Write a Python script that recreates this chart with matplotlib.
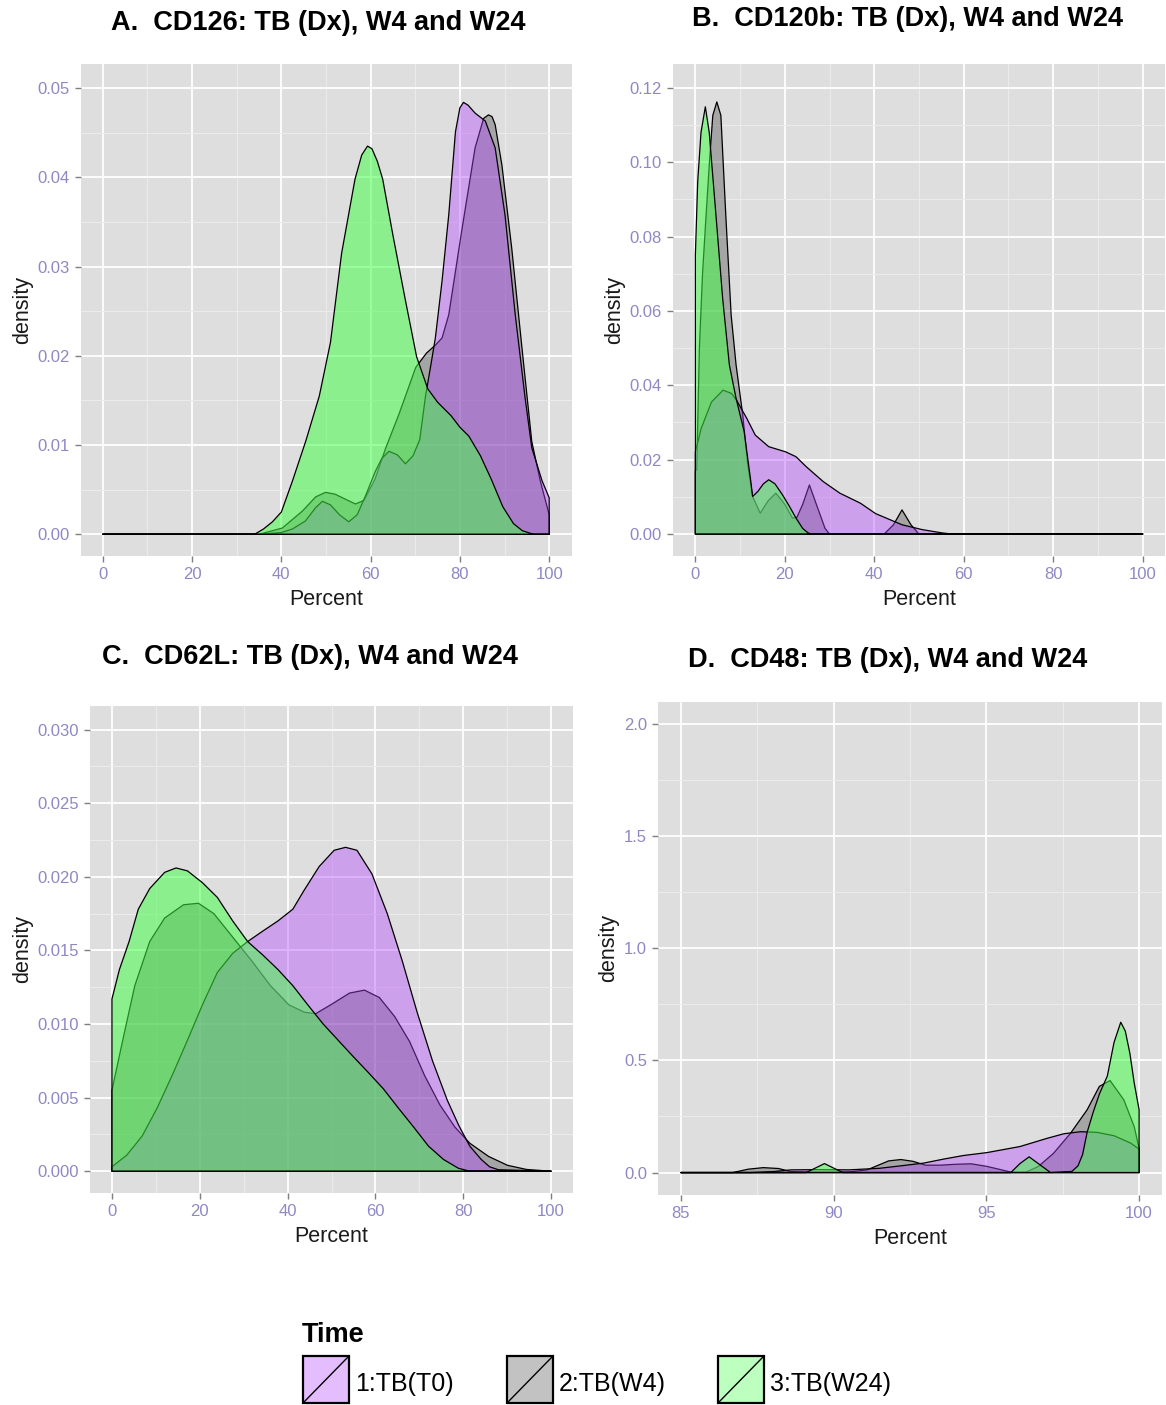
import matplotlib
matplotlib.use("Agg")
import matplotlib.pyplot as plt
import numpy as np
from matplotlib.colors import to_rgba
from matplotlib.patches import Rectangle

plt.rcParams['font.family'] = ['Liberation Sans', 'DejaVu Sans']

W, H = 1166, 1405

# ---- data (x = Percent, y = density) ----
# panel A: CD126
a_x_t0 = [0, 35, 40, 42.5, 45.4, 47.7, 49.2, 51, 53, 55.1, 57, 59, 61, 62.5, 64.1, 66, 67.8, 69.5, 71, 72.3, 73.5, 74.5, 76, 77.5, 79, 80, 80.8, 81.8, 83.4, 85.7, 87.9, 90.1, 92.4, 94.6, 96.1, 98.4, 100]
a_y_t0 = [0, 0, 0.0002, 0.0006, 0.0015, 0.003, 0.0037, 0.0033, 0.0022, 0.0014, 0.0022, 0.0045, 0.007, 0.0085, 0.0093, 0.0089, 0.0079, 0.0088, 0.0106, 0.0155, 0.019, 0.022, 0.0284, 0.0358, 0.0451, 0.0478, 0.0484, 0.0481, 0.0472, 0.0463, 0.0433, 0.0358, 0.0246, 0.0153, 0.0097, 0.006, 0.0041]
a_x_w4 = [0, 35, 40.2, 44.7, 47.7, 49.9, 52, 54.5, 56.6, 58.5, 61, 63.4, 66.3, 70.1, 72.5, 74.5, 76, 77.5, 80.4, 83.4, 85.3, 86.4, 87.2, 87.9, 89.4, 91.6, 93.9, 96.1, 98, 100]
a_y_w4 = [0, 0, 0.0007, 0.0026, 0.0042, 0.0047, 0.0045, 0.0039, 0.0034, 0.0038, 0.0062, 0.0097, 0.0134, 0.0187, 0.0203, 0.0212, 0.022, 0.0246, 0.034, 0.0433, 0.0466, 0.047, 0.0468, 0.0459, 0.0414, 0.0321, 0.0209, 0.0104, 0.006, 0.0022]
a_x_w24 = [0, 34, 36, 38, 40, 42.5, 45.5, 48.5, 51, 53.5, 56.5, 58, 59.3, 60.3, 61.5, 62.7, 65, 67.8, 70.3, 72.8, 75, 78, 80, 82, 84.6, 87, 89.6, 92, 94, 96.5, 100]
a_y_w24 = [0, 0, 0.0006, 0.0014, 0.0025, 0.006, 0.0105, 0.0155, 0.0215, 0.0315, 0.0398, 0.0425, 0.0435, 0.0432, 0.0418, 0.0398, 0.0335, 0.0262, 0.0199, 0.0163, 0.0148, 0.0133, 0.012, 0.011, 0.0088, 0.0062, 0.0031, 0.0012, 0.0004, 0, 0]

# panel B: CD120b
b_x_t0 = [0, 1.3, 3.6, 6.2, 8.1, 9.2, 11.5, 13.4, 16.4, 20.2, 22.5, 24.8, 28.6, 32.3, 36.9, 40.3, 46.2, 50.7, 55.2, 57.4, 100]
b_y_t0 = [0.0221, 0.0284, 0.0355, 0.0387, 0.0378, 0.036, 0.0311, 0.0266, 0.0235, 0.0221, 0.0208, 0.0181, 0.0141, 0.011, 0.0083, 0.0055, 0.0025, 0.0012, 0.0003, 0, 0]
b_x_w4 = [0, 0.3, 0.9, 1.6, 2.4, 3.2, 3.9, 4.8, 5.7, 6.8, 8.0, 9.1, 10.6, 11.7, 12.8, 14.5, 16.3, 18.0, 20.0, 21.7, 22.7, 24.0, 25.5, 27.5, 29.0, 30.0, 42.2, 44.3, 46.2, 48.2, 50.0, 100]
b_y_w4 = [0.017, 0.0173, 0.05, 0.07, 0.0858, 0.101, 0.1126, 0.1162, 0.1126, 0.0858, 0.0589, 0.0455, 0.032, 0.0186, 0.0101, 0.0056, 0.009, 0.011, 0.008, 0.0043, 0.0045, 0.008, 0.0132, 0.0065, 0.0015, 0, 0, 0.0025, 0.0065, 0.0025, 0, 0]
b_x_w24 = [0, 0.52, 1.26, 2.23, 3.1, 4.6, 6.1, 7.6, 9.1, 10.9, 12.4, 12.8, 14.0, 15.2, 16.4, 17.8, 19.5, 21.0, 22.5, 24.0, 25.2, 26.0, 100]
b_y_w24 = [0.075, 0.0947, 0.108, 0.1149, 0.108, 0.0858, 0.0634, 0.0455, 0.0365, 0.0276, 0.0141, 0.0101, 0.0115, 0.0135, 0.0146, 0.0135, 0.0105, 0.0075, 0.0043, 0.0015, 0.0003, 0, 0]

# panel C: CD62L
c_x_t0 = [0, 3.4, 6.9, 10.3, 13.7, 17.2, 20.6, 24, 27.5, 30.9, 34.3, 37.8, 41.2, 43.8, 47.2, 50.6, 53.2, 55.8, 59.2, 62.7, 66.1, 69.5, 73, 76.4, 79, 81.5, 84.1, 86, 88, 100]
c_y_t0 = [0.0003, 0.0011, 0.0024, 0.0043, 0.0065, 0.0089, 0.0113, 0.0135, 0.0148, 0.0156, 0.0163, 0.017, 0.0178, 0.0191, 0.0207, 0.0218, 0.022, 0.0218, 0.0202, 0.0175, 0.0143, 0.0108, 0.0075, 0.0048, 0.0031, 0.0017, 0.0008, 0.0003, 0.0001, 0]
c_x_w4 = [0, 2.6, 5.2, 8.6, 12, 16.3, 19.7, 23.2, 27.5, 31.8, 36.1, 40.3, 43.8, 46.4, 49.8, 54.1, 57.5, 60.9, 64.4, 67.8, 71.2, 74.7, 78.1, 81.5, 85.8, 90.1, 94.4, 100]
c_y_w4 = [0.0055, 0.0091, 0.0126, 0.0156, 0.0172, 0.0181, 0.0182, 0.0175, 0.0159, 0.0143, 0.0126, 0.0113, 0.0108, 0.0107, 0.0113, 0.0121, 0.0123, 0.0118, 0.0105, 0.0088, 0.0065, 0.0045, 0.003, 0.0019, 0.001, 0.0004, 0.00012, 0]
c_x_w24 = [0, 1.7, 3.9, 6, 8.6, 12, 14.6, 17.2, 20.6, 24, 27.5, 30.9, 34.3, 37.8, 41.2, 44.6, 48.1, 51.5, 54.9, 58.4, 61.8, 65.2, 68.7, 72.1, 75.5, 78.9, 81.5, 100]
c_y_w24 = [0.0117, 0.0137, 0.0156, 0.0178, 0.0192, 0.0203, 0.0206, 0.0204, 0.0196, 0.0186, 0.017, 0.0156, 0.0147, 0.0137, 0.0126, 0.0113, 0.01, 0.0089, 0.0078, 0.0067, 0.0056, 0.0043, 0.003, 0.0017, 0.0008, 0.0002, 0, 0]

# panel D: CD48
d_x_t0 = [85, 87.3, 88.0, 88.6, 89.5, 90.5, 91.5, 92.2, 92.94, 93.6, 94.25, 95.02, 96.1, 97.0, 97.54, 98.09, 98.63, 99.18, 99.73, 100]
d_y_t0 = [0, 0, 0.004, 0.012, 0.013, 0.012, 0.019, 0.03, 0.042, 0.06, 0.076, 0.089, 0.116, 0.153, 0.173, 0.182, 0.179, 0.164, 0.131, 0.104]
d_x_w4 = [85, 86.7, 87.2, 87.7, 88.2, 88.6, 89.5, 90.5, 91.1, 91.5, 91.8, 92.2, 92.6, 93.0, 93.5, 94.0, 94.5, 95.0, 95.5, 95.8, 96.3, 96.7, 97.2, 97.76, 98.3, 98.7, 99.05, 99.5, 99.84, 100]
d_y_w4 = [0, 0, 0.015, 0.022, 0.018, 0.004, 0.002, 0.003, 0.012, 0.035, 0.052, 0.058, 0.05, 0.033, 0.033, 0.037, 0.039, 0.028, 0.012, 0.002, 0.002, 0.027, 0.086, 0.176, 0.28, 0.384, 0.41, 0.324, 0.205, 0.108]
d_x_w24 = [85, 89.1, 89.4, 89.7, 90.0, 90.3, 95.8, 96.1, 96.4, 96.7, 97.1, 97.8, 98.0, 98.15, 98.3, 98.5, 98.7, 98.96, 99.18, 99.4, 99.55, 99.7, 99.84, 100]
d_y_w24 = [0, 0, 0.02, 0.04, 0.02, 0, 0, 0.04, 0.07, 0.04, 0, 0.005, 0.03, 0.08, 0.18, 0.27, 0.35, 0.43, 0.58, 0.67, 0.63, 0.53, 0.40, 0.28]

titles = ["A.  CD126: TB (Dx), W4 and W24", "B.  CD120b: TB (Dx), W4 and W24",
          "C.  CD62L: TB (Dx), W4 and W24", "D.  CD48: TB (Dx), W4 and W24"]
groups = ["1:TB(T0)", "2:TB(W4)", "3:TB(W24)"]
fills = ["#B443FF", "#505050", "#41FF46"]
alphas = [0.4, 0.4, 0.53]

bg = "#DEDEDE"
tick_col = "#8F88C4"


def box(l, t, r, b):
    return [l / W, 1 - b / H, (r - l) / W, (b - t) / H]


def density(ax, xs, ys, k):
    xs = np.asarray(xs, float)
    ys = np.asarray(ys, float)
    px = np.concatenate([[xs[0]], xs, [xs[-1]]])
    py = np.concatenate([[0], ys, [0]])
    ax.fill(px, py, facecolor=to_rgba(fills[k], alphas[k]), edgecolor="black",
            linewidth=0.9, joinstyle="round")


panels = [
    dict(rect=box(80.5, 64, 571.5, 556), xlim=(-5, 105), ylim=(-0.00243, 0.0527),
         xt=np.arange(0, 101, 20), yt=np.arange(0, 0.051, 0.01), fmt="%.2f",
         data=[(a_x_w4, a_y_w4, 1), (a_x_t0, a_y_t0, 0), (a_x_w24, a_y_w24, 2)]),
    dict(rect=box(673, 64, 1165, 556), xlim=(-5, 105), ylim=(-0.0059, 0.1264),
         xt=np.arange(0, 101, 20), yt=np.arange(0, 0.121, 0.02), fmt="%.2f",
         data=[(b_x_w4, b_y_w4, 1), (b_x_t0, b_y_t0, 0), (b_x_w24, b_y_w24, 2)]),
    dict(rect=box(90, 706, 573, 1193), xlim=(-5, 105), ylim=(-0.00148, 0.0316),
         xt=np.arange(0, 101, 20), yt=np.arange(0, 0.0301, 0.005), fmt="%.3f",
         data=[(c_x_w4, c_y_w4, 1), (c_x_t0, c_y_t0, 0), (c_x_w24, c_y_w24, 2)]),
    dict(rect=box(658, 702, 1162, 1195), xlim=(84.25, 100.75), ylim=(-0.1, 2.097),
         xt=np.arange(85, 101, 5), yt=np.arange(0, 2.01, 0.5), fmt="%.1f",
         data=[(d_x_w4, d_y_w4, 1), (d_x_t0, d_y_t0, 0), (d_x_w24, d_y_w24, 2)]),
]

fig = plt.figure(figsize=(W / 100, H / 100), dpi=100)

for p in panels:
    ax = fig.add_axes(p["rect"])
    ax.set_facecolor(bg)
    for s in ax.spines.values():
        s.set_visible(False)
    ax.set_axisbelow(True)
    for xs, ys, k in p["data"]:
        density(ax, xs, ys, k)
    ax.set_xlim(*p["xlim"])
    ax.set_ylim(*p["ylim"])
    xt = p["xt"]
    yt = p["yt"]
    ax.set_xticks(xt)
    ax.set_yticks(yt)
    ax.set_xticks((xt[:-1] + xt[1:]) / 2, minor=True)
    ax.set_yticks((yt[:-1] + yt[1:]) / 2, minor=True)
    ax.set_xticklabels(["%g" % v for v in xt])
    ax.set_yticklabels([p["fmt"] % v for v in yt])
    ax.grid(True, which="major", color="white", linewidth=1.3)
    ax.grid(True, which="minor", color="#ECECEC", linewidth=0.7)
    ax.tick_params(which="major", length=4, width=1, color="#7F7F7F",
                   labelsize=12, labelcolor=tick_col, pad=4)
    ax.tick_params(which="minor", length=0)
    ax.set_xlabel("Percent", fontsize=15.5, color="#1A1A1A", labelpad=5)
    ax.set_ylabel("density", fontsize=15.5, color="#1A1A1A", labelpad=3)

# titles
title_pos = [(318, 23), (907, 19), (310, 657), (888, 660)]
for t, (tx, ty) in zip(titles, title_pos):
    fig.text(tx / W, 1 - ty / H, t, ha="center", va="center",
             fontsize=19.5, fontweight="bold", color="black")

# legend
lax = fig.add_axes([0, 0, 1, 1])
lax.set_xlim(0, W)
lax.set_ylim(H, 0)
lax.axis("off")
lax.text(302, 1335, "Time", fontsize=19.5, fontweight="bold", va="center", ha="left")
key_left = [303, 507, 718]
for k, lbl in enumerate(groups):
    x0 = key_left[k]
    lax.add_patch(Rectangle((x0, 1356), 46, 47, facecolor=to_rgba(fills[k], 0.35),
                            edgecolor="black", linewidth=1.6))
    lax.plot([x0 + 1, x0 + 45], [1402, 1357], color="black", linewidth=1.0)
    lax.text(x0 + 52, 1384, lbl, fontsize=18, va="center", ha="left")

fig.savefig("out.png", dpi=100)
